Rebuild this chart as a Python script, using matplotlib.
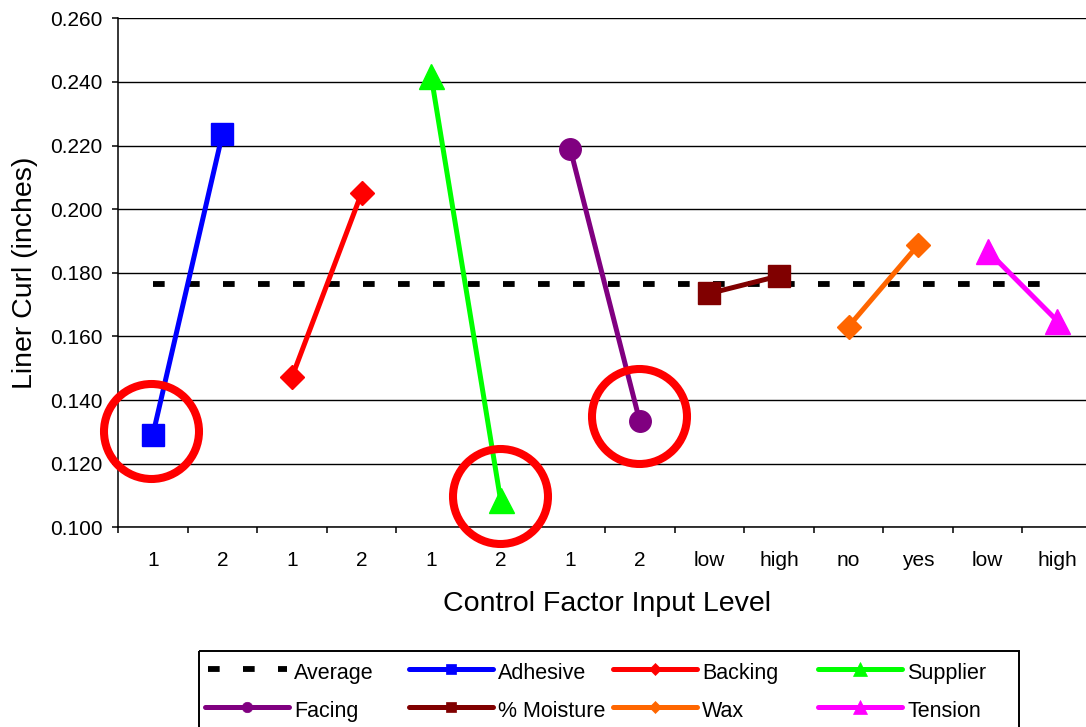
import numpy as np
import matplotlib
matplotlib.use('Agg')
import matplotlib.pyplot as plt
from matplotlib.patches import Rectangle
from matplotlib.ticker import FixedLocator, MultipleLocator, FormatStrFormatter

plt.rcParams['font.family'] = ['Liberation Sans', 'DejaVu Sans']

# data
levels = ['1', '2', '1', '2', '1', '2', '1', '2', 'low', 'high', 'no', 'yes', 'low', 'high']
factors = ['Adhesive', 'Backing', 'Supplier', 'Facing', '% Moisture', 'Wax', 'Tension']
adhesive = [0.1290, 0.2235]
backing = [0.1472, 0.2050]
supplier = [0.2420, 0.1085]
facing = [0.2190, 0.1333]
moisture = [0.1735, 0.1790]
wax = [0.1631, 0.1887]
tension = [0.1869, 0.1649]
average = 0.1766

# red circles highlighting the low points (x in category index)
circle_x = [-0.02, 4.99, 6.99]
circle_y = [0.1304, 0.1099, 0.1350]

series = [adhesive, backing, supplier, facing, moisture, wax, tension]
colors = ['#0000FF', '#FF0000', '#00FF00', '#800080', '#800000', '#FF6600', '#FF00FF']
markers = ['s', 'D', '^', 'o', 's', 'D', '^']
msize = {'s': 15.5, 'D': 12.5, '^': 18, 'o': 15.5}
msize_leg = {'s': 7, 'D': 6, '^': 10, 'o': 7.5}

W, H = 1086, 727
fig = plt.figure(figsize=(W / 100, H / 100), dpi=100)
ax = fig.add_axes([118 / W, 1 - 527.3 / H, 974 / W, 509 / H])

n = len(levels)
xs = np.arange(n)

# average line
ax.plot(xs, [average] * n, color='black', lw=4.2, dashes=(2, 4), zorder=2)

for i, vals in enumerate(series):
    ax.plot(xs[2 * i:2 * i + 2], vals, color=colors[i], lw=3.6,
            marker=markers[i], markersize=msize[markers[i]],
            markerfacecolor=colors[i], markeredgecolor=colors[i], mew=1,
            solid_capstyle='round', zorder=3)

ax.plot(circle_x, circle_y, ls='none', marker='o', markersize=68.4,
        markerfacecolor='none', markeredgecolor='#FF0000', mew=5.8,
        clip_on=False, zorder=5)

ax.set_xlim(-0.5, n - 0.5)
ax.set_ylim(0.100, 0.260)
ax.yaxis.set_major_locator(MultipleLocator(0.02))
ax.yaxis.set_major_formatter(FormatStrFormatter('%.3f'))
ax.set_xticks(xs)
ax.set_xticklabels(levels)
ax.xaxis.set_minor_locator(FixedLocator(np.arange(n + 1) - 0.5))

ax.set_axisbelow(True)
ax.yaxis.grid(True, color='black', lw=1.0)
for s in ['top', 'right']:
    ax.spines[s].set_visible(False)
for s in ['left', 'bottom']:
    ax.spines[s].set_linewidth(1.1)

ax.tick_params(axis='y', direction='out', length=4.3, width=1.1, pad=7, labelsize=15)
ax.tick_params(axis='x', which='major', length=0, pad=17, labelsize=15)
ax.tick_params(axis='x', which='minor', direction='out', length=4.3, width=1.1)

ax.set_xlabel('Control Factor Input Level', fontsize=20.5, va='baseline')
ax.xaxis.set_label_coords((607 - 118) / 974, -(610.7 - 527.3) / 509)
ax.set_ylabel('Liner Curl (inches)', fontsize=20.5, va='baseline')
ax.yaxis.set_label_coords((32 - 118) / 974, 0.5)

# legend drawn in pixel coordinates (Excel style fixed-width columns)
lg = fig.add_axes([0, 0, 1, 1], zorder=10)
lg.set_xlim(0, W)
lg.set_ylim(H, 0)
lg.axis('off')
lg.patch.set_visible(False)
lg.add_patch(Rectangle((199, 651), 820, 120, fill=False, ec='black', lw=1.4))

col_x = [205, 409, 613, 818]
row_line = [669, 706.7]
row_base = [679.3, 717]
entries = ['Average'] + factors
for k, name in enumerate(entries):
    r, c = divmod(k, 4)
    x0 = col_x[c]
    y = row_line[r]
    if k == 0:
        lg.plot([x0 + 3, x0 + 82], [y, y], color='black', lw=4.2, dashes=(2, 4))
    else:
        j = k - 1
        lg.plot([x0, x0 + 84], [y, y], color=colors[j], lw=3.6, solid_capstyle='round')
        lg.plot([x0 + 42], [y], marker=markers[j], markersize=msize_leg[markers[j]],
                color=colors[j], mew=0.5)
    lg.text(x0 + 89, row_base[r], name, fontsize=15.5, va='baseline', ha='left')

fig.savefig('out.png', dpi=100)
